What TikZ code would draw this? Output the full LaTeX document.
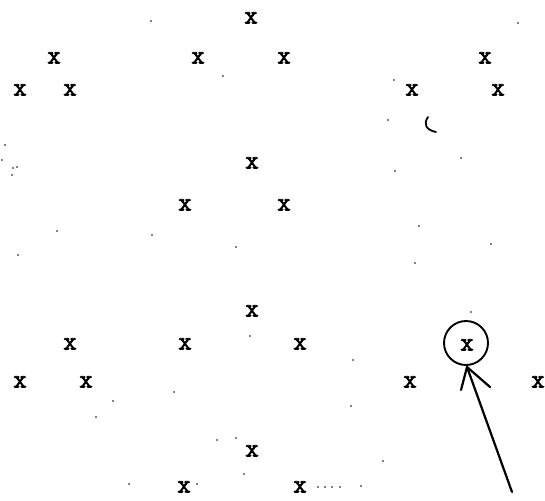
\documentclass[tikz,border=0pt]{standalone}
\usepackage{fontspec}
\newfontfamily\xfont[FakeBold=2.6]{Latin Modern Mono}
\begin{document}
\begin{tikzpicture}[x=1pt,y=-1pt,
  mk/.style={font=\xfont\fontsize{26}{26}\selectfont, inner sep=0pt, text height=11pt, text depth=0pt},
  pen/.style={line width=2.2pt, line cap=round, line join=round}]
\useasboundingbox (0,0) rectangle (545,500);
% top group
\node[mk] (t1) at (251,18) {x};
\node[mk] (t2) at (54,58) {x};
\node[mk] (t3) at (198,58) {x};
\node[mk] (t4) at (284,58) {x};
\node[mk] (t5) at (485,58) {x};
\node[mk] (t6) at (20,90) {x};
\node[mk] (t7) at (70,90) {x};
\node[mk] (t8) at (412,90) {x};
\node[mk] (t9) at (498,90) {x};
\node[mk] (m1) at (252,163) {x};
\node[mk] (m2) at (185,205) {x};
\node[mk] (m3) at (284,205) {x};
% bottom group
\node[mk] (b1) at (252,311) {x};
\node[mk] (b2) at (70,344) {x};
\node[mk] (b3) at (185,344) {x};
\node[mk] (b4) at (300,344) {x};
\node[mk] (b5) at (467,345) {x};
\node[mk] (b6) at (20,382) {x};
\node[mk] (b7) at (86,382) {x};
\node[mk] (b8) at (410,382) {x};
\node[mk] (b9) at (538,382) {x};
\node[mk] (c1) at (252,451) {x};
\node[mk] (c2) at (184,487) {x};
\node[mk] (c3) at (300,487) {x};
% hand-drawn circle and arrow
\draw[pen, line width=1.9pt] (466,343) ellipse (22 and 22);
\coordinate (tail) at (512,492);
\coordinate (tip) at (467,367);
\draw[pen] (tail) -- (tip);
\draw[pen] (461,390) -- (tip) -- (490,387);
% small C stroke
\draw[line width=1.8pt, line cap=round] (428,117) .. controls (423,124) and (426,130) .. (436,132);
% stray dots
\foreach \p in {(151,21),(223,76),(518,23),(388,120),(461,158),(395,171),(419,226),(491,244),
  (5,145),(2,160),(13,168),(17,167),(12,175),(57,231),(152,235),(236,247),
  (18,255),(415,263),(250,336),(353,360),(471,312),(113,401),(96,417),(351,406),
  (217,440),(236,438),(244,474),(383,461),(129,484),(197,484),
  (318,487),(325,487),(332,487),(340,487),(361,486),(174,392)}
  \fill \p circle (0.9);
\fill (394,80) circle (0.8);
\end{tikzpicture}
\end{document}
